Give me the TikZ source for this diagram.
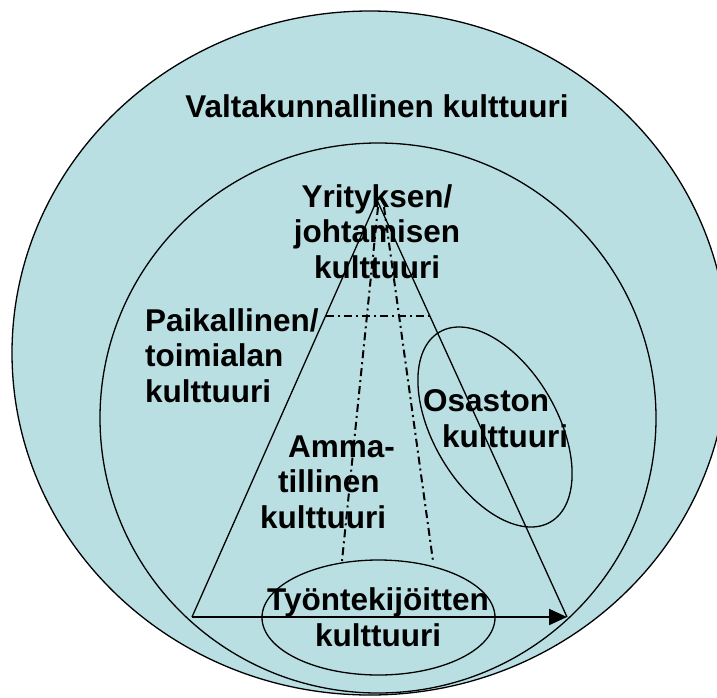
\documentclass[tikz,border=0pt]{standalone}
\usepackage{fontspec}
\setmainfont{Liberation Sans}
\usepackage{xcolor}
\usepackage{tikz}
\usetikzlibrary{arrows.meta,calc,shapes.geometric}
\definecolor{kultblue}{RGB}{185,223,227}

\begin{document}
\begin{tikzpicture}[x=1pt,y=-1pt,
  lbl/.style={font=\fontsize{31.5}{35.5}\selectfont\bfseries, inner sep=0pt},
  kline/.style={line width=1.3pt},
  dashdot/.style={line width=2pt, dash pattern=on 8pt off 4pt on 2pt off 4pt}]
  \useasboundingbox (0,0) rectangle (717,697);
  \clip (0,0) rectangle (717,697);
  % ympyrät
  \draw[kline, fill=kultblue] (370,353) ellipse [x radius=358, y radius=342];
  \draw[kline] (378,418) ellipse [x radius=278, y radius=275];
  % pyramidi
  \coordinate (apex) at (377,200);
  \coordinate (bl) at (192,617);
  \coordinate (br) at (567,617);
  \draw[kline] (bl) -- (apex) -- (br);
  % työntekijät ja osasto
  \draw[kline] (378.5,617.5) ellipse [x radius=116.5, y radius=57.5];
  \draw[kline, rotate around={-59.7:(495,427)}] (495,427) ellipse [x radius=110, y radius=62];
  \draw[-{Triangle[length=18pt,width=16pt]}, line width=2pt] (bl) -- (br);
  % katkoviivat
  \coordinate (ammaL) at (378,207);
  \coordinate (ammaR) at (384,207);
  \coordinate (tyoL) at (342,561);
  \coordinate (tyoR) at (433,561);
  \draw[dashdot] ($(apex)!0.278!(bl)$) -- ($(apex)!0.278!(br)$);
  \draw[dashdot] (ammaL) -- (tyoL);
  \draw[dashdot] (ammaR) -- (tyoR);
  % tekstit (base = viimeisen rivin perusviiva)
  \node[lbl, anchor=base] (valta) at (377,117) {Valtakunnallinen kulttuuri};
  \node[lbl, anchor=base, align=center] (yritys) at (377,278) {Yrityksen/\\johtamisen\\kulttuuri};
  \node[lbl, anchor=base west, align=left] (paik) at (145,402) {Paikallinen/\\toimialan\\kulttuuri};
  \node[lbl, anchor=base west, align=left] (amma) at (260,528)
    {\hspace*{28pt}Amma-\\\hspace*{18pt}tillinen\\kulttuuri};
  \node[lbl, anchor=base west, align=left] (osasto) at (423,447) {Osaston\\\hspace*{19pt}kulttuuri};
  \node[lbl, anchor=base, align=center] (tyo) at (378,646) {Työntekijöitten\\kulttuuri};
\end{tikzpicture}
\end{document}
